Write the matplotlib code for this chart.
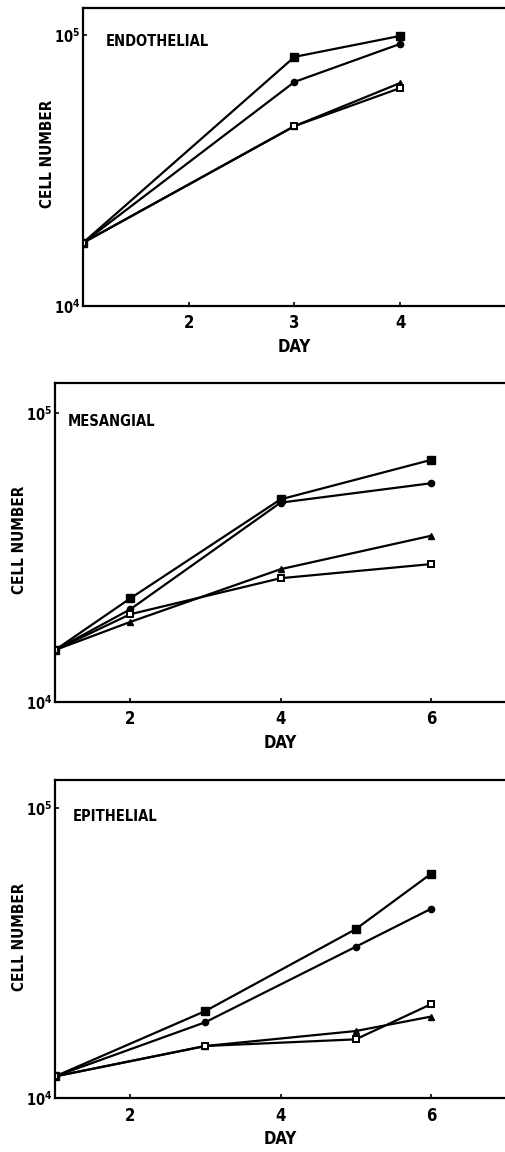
import numpy as np
import matplotlib
matplotlib.use("Agg")
import matplotlib.pyplot as plt
from matplotlib.ticker import FixedLocator, NullLocator

plt.rcParams["font.family"] = ["DejaVu Sans"]
plt.rcParams["font.stretch"] = "condensed"
plt.rcParams["font.weight"] = "bold"
plt.rcParams["axes.labelweight"] = "bold"

# cell counts (cells per well)
endo_days = [1, 3, 4]
endo_sq_filled = [17100, 83000, 99200]
endo_circle = [17100, 67100, 92700]
endo_triangle = [17100, 46100, 66500]
endo_sq_open = [17100, 46100, 63700]

mes_days = [1, 2, 4, 6]
mes_sq_filled = [15100, 22800, 50300, 68900]
mes_circle = [15100, 20900, 49000, 57200]
mes_triangle = [15100, 18900, 28800, 37600]
mes_sq_open = [15100, 20100, 26800, 30000]

epi_days = [1, 3, 5, 6]
epi_sq_filled = [11900, 20000, 38300, 59400]
epi_circle = [11900, 18300, 33300, 45000]
epi_triangle = [11900, 15150, 17060, 19130]
epi_sq_open = [11900, 15150, 15970, 21100]

PANELS = [
    # name, days, series, xticks, xlim, ytop, axes rect, ylabel pos (px), name pos (axes frac)
    ("ENDOTHELIAL", endo_days,
     [endo_sq_filled, endo_circle, endo_triangle, endo_sq_open],
     [2, 3, 4], (1, 5), 10 ** 5.0996, [0.164, 0.7344, 0.836, 0.2587], (47, 154), (0.054, 0.889)),
    ("MESANGIAL", mes_days,
     [mes_sq_filled, mes_circle, mes_triangle, mes_sq_open],
     [2, 4, 6], (1, 7), 10 ** 5.105, [0.1087, 0.3909, 0.8913, 0.2766], (20, 540), (0.029, 0.878)),
    ("EPITHELIAL", epi_days,
     [epi_sq_filled, epi_circle, epi_triangle, epi_sq_open],
     [2, 4, 6], (1, 7), 10 ** 5.0976, [0.1087, 0.0466, 0.8913, 0.2763], (20, 937), (0.040, 0.884)),
]

MARKERS = [
    dict(marker="s", ms=5.5, mfc="black"),
    dict(marker="o", ms=4.5, mfc="black"),
    dict(marker="^", ms=5, mfc="black"),
    dict(marker="s", ms=4.5, mfc="white", mew=1.4),
]

W, H = 506, 1152
fig = plt.figure(figsize=(W / 100, H / 100), dpi=100)

for name, days, series, xticks, xlim, ytop, rect, ylab, npos in PANELS:
    ax = fig.add_axes(rect)
    for vals, mk in zip(series, MARKERS):
        ax.plot(days, vals, color="black", lw=1.6, mec="black", **mk)
    ax.set_yscale("log")
    ax.set_ylim(1e4, ytop)
    ax.set_xlim(*xlim)
    ax.yaxis.set_major_locator(FixedLocator([1e4, 1e5]))
    ax.yaxis.set_minor_locator(NullLocator())
    ax.set_yticklabels([r"$\mathbf{10^4}$", r"$\mathbf{10^5}$"], fontsize=10.5)
    ax.set_xticks(xticks)
    ax.set_xticklabels([str(t) for t in xticks], fontsize=12)
    ax.tick_params(direction="in", length=3, width=1.2, pad=6)
    ax.tick_params(axis="y", pad=2)
    for side in ["left", "bottom", "top"]:
        ax.spines[side].set_linewidth(1.6)
    ax.spines["right"].set_visible(False)
    ax.set_xlabel("DAY", fontsize=12, labelpad=4)
    fig.text(ylab[0] / W, 1 - ylab[1] / H, "CELL NUMBER", rotation=90,
             fontsize=11, ha="center", va="center")
    ax.text(npos[0], npos[1], name, transform=ax.transAxes, fontsize=10.5,
            va="center", ha="left")

fig.savefig("out.png", dpi=100)
